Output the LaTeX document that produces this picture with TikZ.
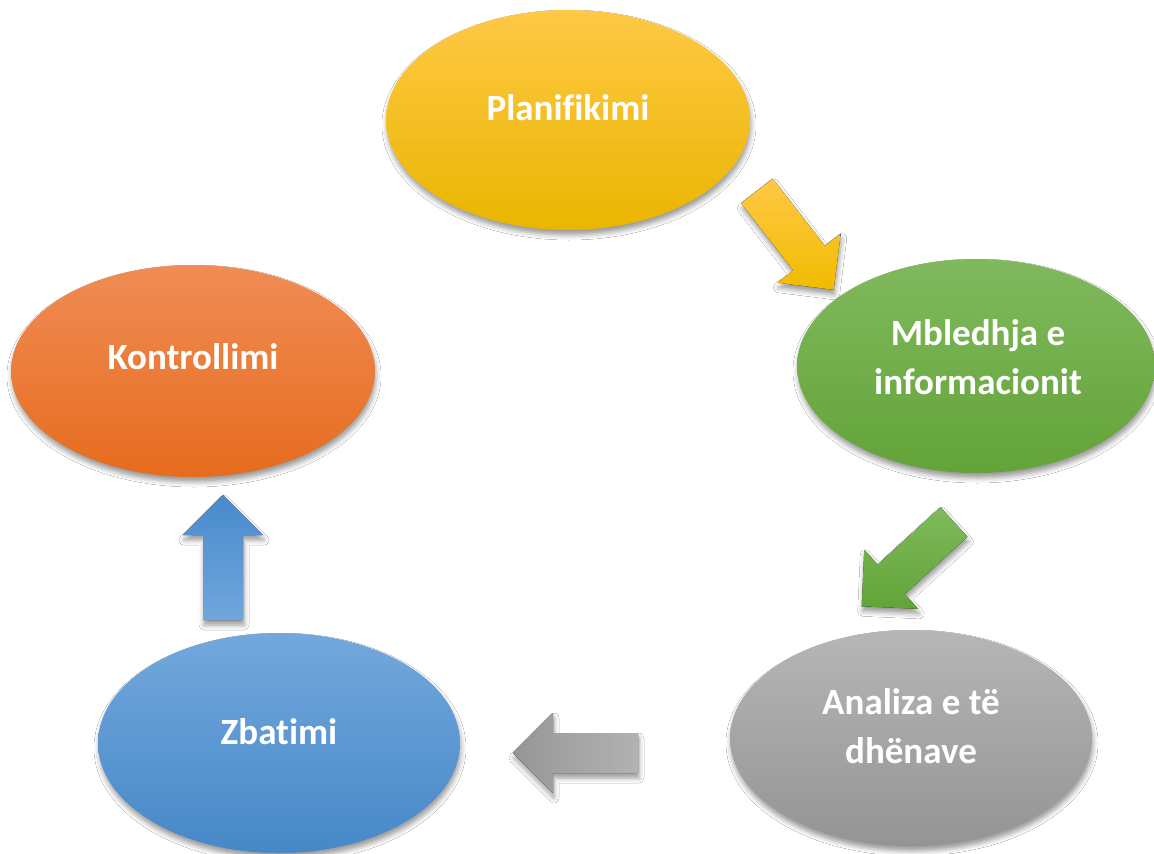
\documentclass[tikz,border=0pt]{standalone}
\usepackage{fontspec}
\setmainfont{Carlito}[RawFeature={-liga;-clig;-dlig}]
\usetikzlibrary{shapes.geometric,shadows.blur}
\definecolor{yT}{RGB}{255,200,70}\definecolor{yM}{RGB}{255,192,0}\definecolor{yB}{RGB}{234,182,0}
\definecolor{gT}{RGB}{129,185,94}\definecolor{gM}{RGB}{112,173,71}\definecolor{gB}{RGB}{99,163,56}
\definecolor{oT}{RGB}{240,140,85}\definecolor{oM}{RGB}{242,125,45}\definecolor{oB}{RGB}{230,108,30}
\definecolor{sT}{RGB}{182,182,182}\definecolor{sM}{RGB}{165,165,165}\definecolor{sB}{RGB}{148,148,148}
\definecolor{bT}{RGB}{115,168,220}\definecolor{bM}{RGB}{91,155,213}\definecolor{bB}{RGB}{70,136,200}
\newcommand\blockarrow[3]{%
  \begin{scope}[shift={#2}, rotate=#3]
    \fill[#1] (0,-20) -- (85,-20) -- (85,-40) -- (125,0) -- (85,40) -- (85,20) -- (0,20) -- cycle;
  \end{scope}}
\begin{document}
\begin{tikzpicture}[x=1pt,y=-1pt,
  sh/.style={blur shadow={shadow xshift=1pt, shadow yshift=-5pt, shadow blur radius=5pt, shadow opacity=40}},
  bubble/.style={ellipse, inner sep=0pt, sh},
  lbl/.style={text=white, align=center, font=\bfseries\fontsize{37}{49}\selectfont}]
\fill[white] (0,0) rectangle (1154,854);
\clip (0,0) rectangle (1154,854);
\useasboundingbox (0,0) rectangle (1154,854);
% ellipses
\node[bubble, minimum width=364pt, minimum height=220pt, top color=yT, middle color=yM, bottom color=yB] (p1) at (568,120) {};
\node[bubble, minimum width=358pt, minimum height=214pt, top color=gT, middle color=gM, bottom color=gB] (p2) at (976,366) {};
\node[bubble, minimum width=362pt, minimum height=216pt, top color=sT, middle color=sM, bottom color=sB] (p3) at (911,738) {};
\node[bubble, minimum width=362pt, minimum height=220pt, top color=bT, middle color=bM, bottom color=bB] (p4) at (279,743) {};
\node[bubble, minimum width=364pt, minimum height=212pt, top color=oT, middle color=oM, bottom color=oB] (p5) at (193,371) {};
% labels
\node[lbl] (t1) at ([yshift=12pt]p1.center) {Planifikimi};
\node[lbl] (t2) at ([xshift=2pt,yshift=9pt]p2.center) {Mbledhja e\\informacionit};
\node[lbl] (t3) at ([yshift=12pt]p3.center) {Analiza e të\\dhënave};
\node[lbl] (t4) at ([yshift=11pt]p4.center) {Zbatimi};
\node[lbl] (t5) at ([yshift=14pt]p5.center) {Kontrollimi};
% arrows
\coordinate (a1) at (757,191);
\coordinate (a2) at (954,522);
\coordinate (a3) at (638,753);
\coordinate (a4) at (223,620);
\blockarrow{sh, top color=yT, bottom color={rgb,255:red,240;green,188;blue,0}}{(a1)}{-52.2}
\blockarrow{sh, top color={rgb,255:red,128;green,186;blue,92}, bottom color={rgb,255:red,98;green,164;blue,56}}{(a2)}{-137.6}
\blockarrow{sh, left color={rgb,255:red,150;green,150;blue,150}, right color={rgb,255:red,178;green,178;blue,178}}{(a3)}{180}
\blockarrow{sh, top color={rgb,255:red,72;green,138;blue,205}, bottom color={rgb,255:red,112;green,166;blue,219}}{(a4)}{90}
\end{tikzpicture}
\end{document}
